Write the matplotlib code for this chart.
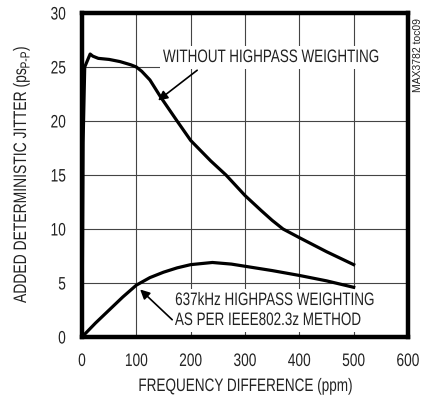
import matplotlib.pyplot as plt
from matplotlib.patheffects import AbstractPathEffect
from matplotlib.transforms import Affine2D

# curves
freq_nohp = [0, 2, 5, 10, 15, 20, 30, 50, 70, 90, 100, 110, 125, 145, 175, 200,
             237, 265, 300, 330, 350, 370, 400, 450, 500]
jit_nohp = [0, 18, 25, 25.6, 26.2, 26.0, 25.8, 25.7, 25.5, 25.2, 25.0, 24.6,
            23.8, 22.2, 20.0, 18.2, 16.3, 15.0, 13.1, 11.7, 10.8, 10.0, 9.2, 7.9, 6.7]

freq_hp = [0, 25, 50, 75, 100, 125, 150, 175, 200, 240, 275, 300, 350, 400, 450, 500]
jit_hp = [0, 1.3, 2.5, 3.7, 4.8, 5.5, 6.0, 6.4, 6.7, 6.9, 6.75, 6.55, 6.15, 5.7, 5.2, 4.6]

xticks = [0, 100, 200, 300, 400, 500, 600]
yticks = [0, 5, 10, 15, 20, 25, 30]


class Narrow(AbstractPathEffect):
    # squeeze glyphs sideways to imitate a condensed Helvetica
    def __init__(self, sx=0.76, frac=0.5):
        super().__init__()
        self.sx = sx
        self.frac = frac

    def draw_path(self, renderer, gc, tpath, affine, rgbFace=None):
        ext = tpath.get_extents()
        cx = ext.x0 + self.frac * ext.width
        t = Affine2D().translate(-cx, 0).scale(self.sx, 1).translate(cx, 0) + affine
        renderer.draw_path(gc, tpath, t, rgbFace)


plt.rcParams['font.family'] = ['Liberation Sans', 'DejaVu Sans']
ink = '#222222'
W, H = 422, 397

fig = plt.figure(figsize=(4.22, 3.97), dpi=100)
ax = fig.add_axes([82 / W, 60 / H, 326 / W, 324 / H])

ax.plot(freq_nohp, jit_nohp, color='black', linewidth=2.3, zorder=3)
ax.plot(freq_hp, jit_hp, color='black', linewidth=2.3, zorder=3)

ax.set_xlim(0, 600)
ax.set_ylim(0, 30)
ax.set_xticks(xticks)
ax.set_yticks(yticks)
ax.tick_params(length=0, labelsize=13, pad=11.5, colors=ink)
for lab in ax.get_xticklabels():
    lab.set_path_effects([Narrow(0.76, 0.5)])
for lab in ax.get_yticklabels():
    lab.set_path_effects([Narrow(0.76, 1.0)])
ax.grid(True, color='#444444', linewidth=0.8)
for s in ax.spines.values():
    s.set_linewidth(3.2)
    s.set_zorder(5)

fig.text(245 / W, 1 - 391 / H, 'FREQUENCY DIFFERENCE (ppm)', fontsize=13,
         ha='center', va='baseline', color=ink, path_effects=[Narrow(0.75, 0.5)])

# y label built from pieces so the subscript stays squeezed like the rest
rend = fig.canvas.get_renderer()
sq = 0.77


def vtext(px, py, s, size):
    t = fig.text(px / W, 1 - py / H, s, fontsize=size, rotation=90,
                 rotation_mode='anchor', ha='left', va='baseline', color=ink,
                 path_effects=[Narrow(sq, 0.0)])
    return sq * t.get_window_extent(rend).height


y0 = 303
y0 -= vtext(26, y0, 'ADDED DETERMINISTIC JITTER (ps', 13) + 0.5
y0 -= vtext(29.5, y0, 'P-P', 9.5) + 0.5
vtext(26, y0, ')', 13)

box = dict(facecolor='white', edgecolor='none', pad=2.5)
ax.text(149, 25.46, 'WITHOUT HIGHPASS WEIGHTING', fontsize=13, va='baseline',
        ha='left', bbox=box, zorder=2, color=ink, clip_on=True,
        path_effects=[Narrow(0.745, 0.0)])
ax.annotate('', xy=(140, 21.9), xytext=(212, 24.7),
            arrowprops=dict(arrowstyle='-|>', color='black', lw=1.2,
                            mutation_scale=14, shrinkA=0, shrinkB=0), zorder=4)

ax.text(171, 2.96, '637kHz HIGHPASS WEIGHTING', fontsize=13, va='baseline',
        ha='left', bbox=box, zorder=2, color=ink, clip_on=True,
        path_effects=[Narrow(0.745, 0.0)])
ax.text(171, 1.11, 'AS PER IEEE802.3z METHOD', fontsize=13, va='baseline',
        ha='left', bbox=box, zorder=2, color=ink, clip_on=True,
        path_effects=[Narrow(0.745, 0.0)])
ax.annotate('', xy=(107, 4.4), xytext=(166, 1.6),
            arrowprops=dict(arrowstyle='-|>', color='black', lw=1.2,
                            mutation_scale=14, shrinkA=0, shrinkB=0), zorder=4)

fig.text(418 / W, 1 - 18 / H, 'MAX3782 toc09', rotation=90, fontsize=7.5,
         ha='center', va='top', color=ink)

fig.savefig('out.png', dpi=100)
